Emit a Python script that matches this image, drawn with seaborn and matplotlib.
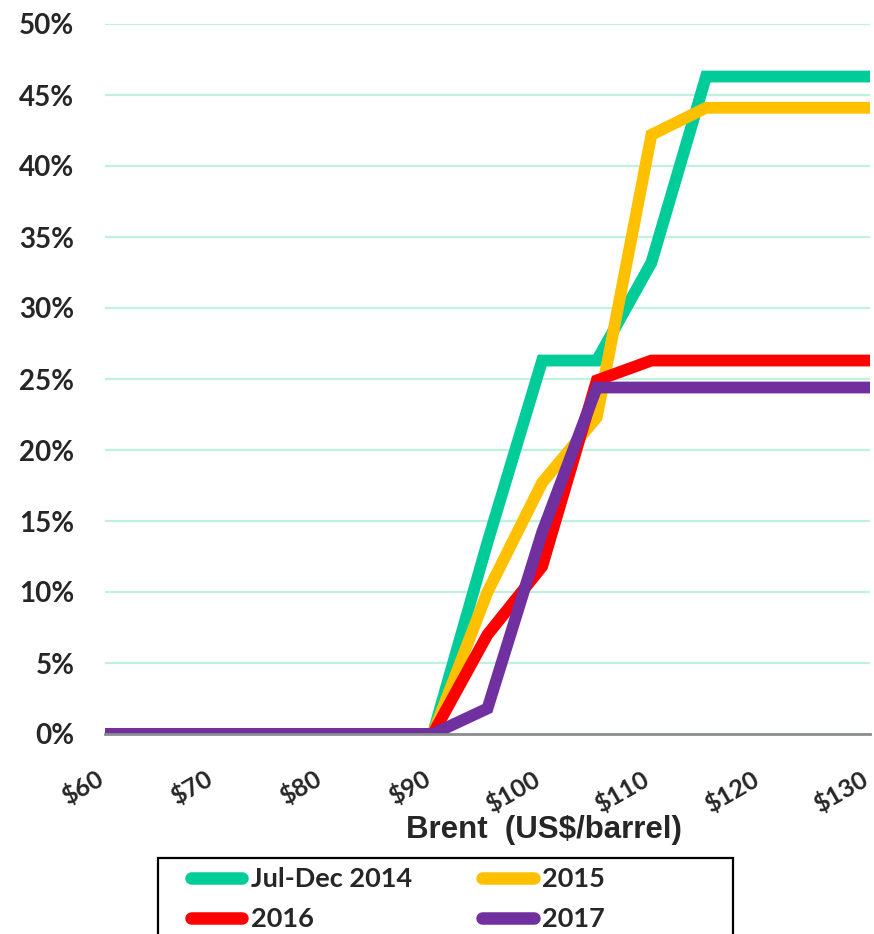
import pandas as pd
import matplotlib
matplotlib.use("Agg")
import matplotlib.pyplot as plt
from matplotlib.patches import Rectangle
import seaborn as sns

# Brent price points (US$/barrel)
brent = [60, 65, 70, 75, 80, 85, 90, 95, 100, 105, 110, 115, 120, 125, 130]

# share (%) per scenario
jul_dec_2014 = [0, 0, 0, 0, 0, 0, 0, 13.5, 26.3, 26.3, 33.2, 46.3, 46.3, 46.3, 46.3]
y2015 = [0, 0, 0, 0, 0, 0, 0, 10.0, 17.7, 22.3, 42.2, 44.1, 44.1, 44.1, 44.1]
y2016 = [0, 0, 0, 0, 0, 0, 0, 7.0, 11.8, 24.9, 26.3, 26.3, 26.3, 26.3, 26.3]
y2017 = [0, 0, 0, 0, 0, 0, 0, 1.8, 14.2, 24.4, 24.4, 24.4, 24.4, 24.4, 24.4]

series_names = ["Jul-Dec 2014", "2015", "2016", "2017"]
colors = ["#00CC99", "#FFC000", "#FF0000", "#7030A0"]

y_ticks = [0, 5, 10, 15, 20, 25, 30, 35, 40, 45, 50]
x_ticks = [60, 70, 80, 90, 100, 110, 120, 130]

frames = []
for name, vals in zip(series_names, [jul_dec_2014, y2015, y2016, y2017]):
    frames.append(pd.DataFrame({"brent": brent, "share": vals, "series": name}))
df = pd.concat(frames, ignore_index=True)

sns.set_style("white")
plt.rcParams["font.family"] = ["Liberation Sans", "DejaVu Sans"]
calibri_like = ["Lato", "DejaVu Sans"]

W, H = 874, 934
fig = plt.figure(figsize=(W / 100, H / 100), dpi=100)
ax = fig.add_axes([105 / W, 1 - 734 / H, 765 / W, 710 / H])

sns.lineplot(data=df, x="brent", y="share", hue="series", palette=colors,
             hue_order=series_names, linewidth=8.5, ax=ax, legend=True)
for ln in ax.get_lines():
    ln.set_solid_joinstyle("miter")

ax.set_xlim(60, 130)
ax.set_ylim(0, 50)
ax.set_yticks(y_ticks)
ax.set_yticklabels([f"{v}%" for v in y_ticks], fontfamily=calibri_like,
                   fontweight="bold", fontsize=20)
ax.set_xticks(x_ticks)
ax.set_xticklabels([f"${v}" for v in x_ticks], fontfamily=calibri_like,
                   fontweight="bold", fontsize=18)
plt.setp(ax.get_xticklabels(), rotation=30, ha="right", va="baseline",
         rotation_mode="anchor")

ax.grid(axis="y", color="#bff2dc", linewidth=1.6)
ax.set_axisbelow(True)
ax.tick_params(axis="y", length=0, pad=22)
ax.tick_params(axis="x", direction="out", length=6, width=1.5, color="#8c8c8c", pad=30)
for s in ["top", "right", "left"]:
    ax.spines[s].set_visible(False)
ax.spines["bottom"].set_color("#8c8c8c")
ax.spines["bottom"].set_linewidth(2)
ax.set_xlabel("")
ax.set_ylabel("")

fig.text(544 / W, 1 - 838 / H, "Brent  (US$/barrel)", ha="center", va="baseline",
         fontsize=22.5, fontweight="bold")

# legend rows: Jul-Dec 2014 / 2015 on top, 2016 / 2017 below
handles, labels = ax.get_legend_handles_labels()
ax.get_legend().remove()
order = [0, 2, 1, 3]
leg = fig.legend([handles[i] for i in order], [labels[i] for i in order],
                 loc="upper left", bbox_to_anchor=(191 / W, 1 - 867 / H),
                 ncol=2, frameon=False, borderpad=0, borderaxespad=0,
                 handlelength=1.9, handletextpad=0.3, columnspacing=2.6,
                 labelspacing=0.6,
                 prop={"family": calibri_like, "weight": "bold", "size": 19.5})
for h in leg.legend_handles:
    h.set_linewidth(9)
    h.set_solid_capstyle("round")

fig.patches.append(Rectangle((158 / W, 1 - 960 / H), 575 / W, 102 / H,
                             transform=fig.transFigure, fill=False,
                             edgecolor="black", linewidth=1.6))

fig.savefig("out.png", dpi=100)
